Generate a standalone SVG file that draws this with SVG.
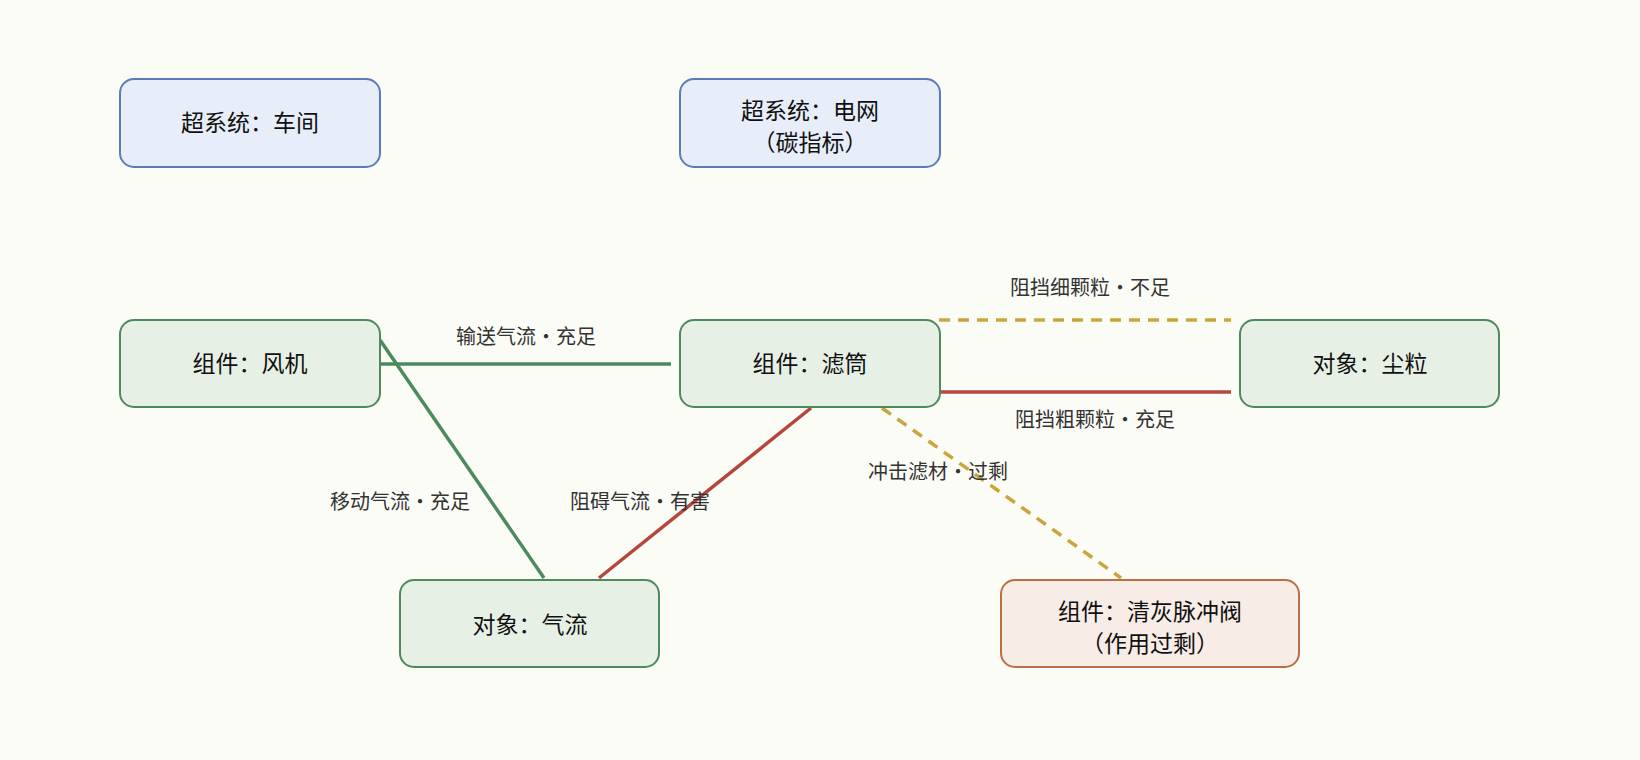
<svg xmlns="http://www.w3.org/2000/svg" width="1640" height="760" viewBox="0 0 1640 760">
<style>
.n{stroke-width:2}
.b{fill:#e8eef9;stroke:#5b7bb9}
.g{fill:#e6f0e5;stroke:#4d8a5c}
.o{fill:#f7ece6;stroke:#b87045}
.t{font-family:"Noto Sans CJK SC","Noto Sans",sans-serif;font-size:23px;fill:#111;text-anchor:middle}
.l{font-family:"Noto Sans CJK SC","Noto Sans",sans-serif;font-size:20px;fill:#333;text-anchor:middle}
.eg{stroke:#4b8a5e;stroke-width:3.5;fill:none}
.er{stroke:#b5463e;stroke-width:3.5;fill:none}
.ey{stroke:#c9a53a;stroke-width:3.5;fill:none;stroke-dasharray:11 8}
</style>
<rect width="1640" height="760" fill="#fcfcf7"/>
<g id="connectors">
<line class="eg" x1="380" y1="364" x2="671" y2="364"/>
<line class="eg" x1="380" y1="340" x2="544" y2="578"/>
<line class="er" x1="811" y1="408" x2="599" y2="578"/>
<line class="er" x1="939" y1="392" x2="1231" y2="392"/>
<line class="ey" x1="939" y1="320" x2="1231" y2="320"/>
<line class="ey" x1="882" y1="408" x2="1121" y2="578"/>
<text class="l" x="526" y="344">输送气流·充足</text>
<text class="l" x="400" y="509">移动气流·充足</text>
<text class="l" x="640" y="509">阻碍气流·有害</text>
<text class="l" x="1095" y="427">阻挡粗颗粒·充足</text>
<text class="l" x="1090" y="295">阻挡细颗粒·不足</text>
<text class="l" x="938" y="479">冲击滤材·过剩</text>
</g>
<g id="n1"><rect class="n b" x="120" y="79" width="260" height="88" rx="14"/><text class="t" x="250" y="131">超系统：车间</text></g>
<g id="n2"><rect class="n b" x="680" y="79" width="260" height="88" rx="14"/><text class="t" x="810" y="119">超系统：电网</text><text class="t" x="810" y="151">（碳指标）</text></g>
<g id="n3"><rect class="n g" x="120" y="320" width="260" height="87" rx="14"/><text class="t" x="250" y="372">组件：风机</text></g>
<g id="n4"><rect class="n g" x="680" y="320" width="260" height="87" rx="14"/><text class="t" x="810" y="372">组件：滤筒</text></g>
<g id="n5"><rect class="n g" x="1240" y="320" width="259" height="87" rx="14"/><text class="t" x="1370" y="372">对象：尘粒</text></g>
<g id="n6"><rect class="n g" x="400" y="580" width="259" height="87" rx="14"/><text class="t" x="530" y="633">对象：气流</text></g>
<g id="n7"><rect class="n o" x="1001" y="580" width="298" height="87" rx="14"/><text class="t" x="1150" y="620">组件：清灰脉冲阀</text><text class="t" x="1150" y="652">（作用过剩）</text></g>
</svg>
